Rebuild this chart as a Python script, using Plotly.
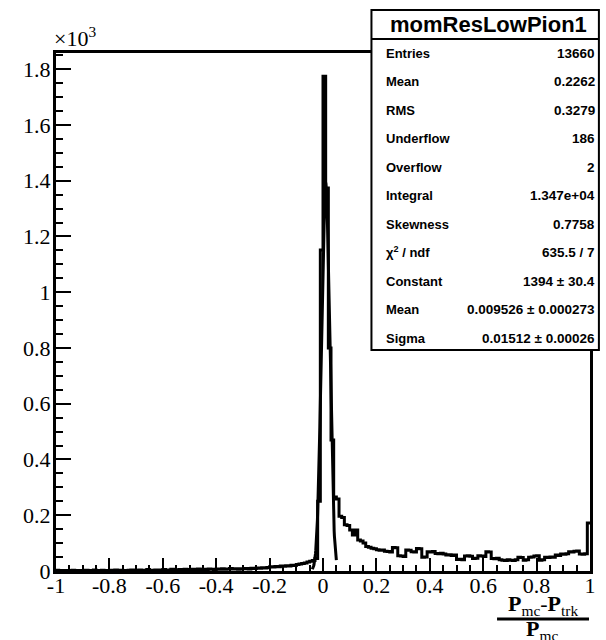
import numpy as np
import plotly.graph_objects as go

# histogram binning (200 bins from -1 to 1)
x_lo, x_hi, n_bins = -1.0, 1.0, 200

# bin contents
counts_far_left = [3, 1, 2, 0, 2, 1, 3, 2, 1, 2,
                   2, 3, 1, 2, 4, 2, 1, 3, 2, 2,
                   3, 2, 4, 2, 3, 1, 2, 3, 4, 2,
                   3, 4, 2, 3, 5, 3, 2, 4, 3, 4,
                   5, 3, 4, 6, 4, 3, 5, 4, 6, 5,
                   4, 6, 5, 7, 5, 6, 4, 7, 6, 5,
                   7, 6, 8, 6, 7, 9, 7, 8, 6, 8]          # -1.00 .. -0.31
counts_near_left = [8, 9, 7, 10, 9, 11, 10, 12, 11, 13,
                    15, 14, 16, 15, 18, 17, 19, 18, 21, 20,
                    23, 25, 27, 29, 32, 35, 38, 45, 250, 1151]  # -0.30 .. -0.01
counts_peak = [1775, 1374, 800, 470, 265, 258, 196, 192, 166, 163]  # 0.00 .. 0.09
counts_tail = [147, 129, 147, 111, 108, 100, 88, 85, 82, 80,
               76, 74, 75, 71, 70, 68, 84, 83, 55, 54,
               52, 75, 74, 69, 68, 81, 80, 49, 50, 69,
               68, 70, 63, 62, 64, 61, 57, 58, 56, 57,
               41, 42, 40, 54, 55, 53, 45, 46, 55, 54,
               52, 69, 68, 45, 44, 46, 40, 39, 38, 40,
               39, 38, 40, 49, 48, 39, 40, 49, 50, 54,
               55, 39, 40, 49, 48, 50, 49, 57, 56, 61,
               60, 62, 69, 68, 71, 72, 61, 60, 62, 172]  # 0.10 .. 0.99

# gaussian fit result (from the stats box)
fit_const, fit_mean, fit_sigma = 1394.0, 0.009526, 0.01512
fit_range = [-0.04, 0.05]

stats_title = "momResLowPion1"
stats_labels = ["Entries", "Mean", "RMS", "Underflow", "Overflow", "Integral",
                "Skewness", "χ<sup>2</sup> / ndf", "Constant", "Mean", "Sigma"]
stats_values = ["13660", "0.2262", "0.3279", "186", "2", "1.347e+04",
                "0.7758", "635.5 / 7", "1394 ± 30.4", "0.009526 ± 0.000273",
                "0.01512 ± 0.00026"]

x_ticks = [-1, -0.8, -0.6, -0.4, -0.2, 0, 0.2, 0.4, 0.6, 0.8, 1]
x_ticktext = ["-1", "-0.8", "-0.6", "-0.4", "-0.2", "0", "0.2", "0.4", "0.6", "0.8", "1"]
y_ticks = [0, 200, 400, 600, 800, 1000, 1200, 1400, 1600, 1800]
y_ticktext = ["0", "0.2", "0.4", "0.6", "0.8", "1", "1.2", "1.4", "1.6", "1.8"]

counts = counts_far_left + counts_near_left + counts_peak + counts_tail
edges = np.linspace(x_lo, x_hi, n_bins + 1)
step_y = counts + [counts[-1]]

fit_x = np.linspace(fit_range[0], fit_range[1], 100)
fit_y = fit_const * np.exp(-0.5 * ((fit_x - fit_mean) / fit_sigma) ** 2)

# plot frame in pixels
L, R, T, B = 56, 596, 53, 571
W, H = 606, 640


def px(x):
    return (x - L) / (R - L)


def py(y):
    return (B - y) / (B - T)


fig = go.Figure()
fig.add_trace(go.Scatter(x=edges, y=step_y, mode="lines", line_shape="hv",
                         line=dict(color="black", width=3), showlegend=False))
fig.add_trace(go.Scatter(x=fit_x, y=fit_y, mode="lines",
                         line=dict(color="black", width=3), showlegend=False))

serif = "Liberation Serif"
fig.update_layout(
    width=W, height=H, autosize=False,
    margin=dict(l=L, r=W - R, t=T, b=H - B),
    paper_bgcolor="white", plot_bgcolor="white",
    font=dict(family=serif, size=22, color="black"),
    showlegend=False,
)
fig.update_xaxes(
    range=[x_lo, x_hi], tickvals=x_ticks, ticktext=x_ticktext,
    ticks="inside", ticklen=13, tickwidth=2, tickcolor="black", ticklabelstandoff=-7,
    minor=dict(dtick=0.05, tick0=-1, ticks="inside", ticklen=6, tickwidth=2, tickcolor="black"),
    showline=True, linewidth=3, linecolor="black", mirror=True,
    showgrid=False, zeroline=False,
)
fig.update_yaxes(
    range=[0, 1858], tickvals=y_ticks, ticktext=y_ticktext,
    ticks="inside", ticklen=15, tickwidth=2, tickcolor="black", ticklabelstandoff=-2,
    minor=dict(dtick=50, tick0=0, ticks="inside", ticklen=7, tickwidth=2, tickcolor="black"),
    showline=True, linewidth=3, linecolor="black", mirror=True,
    showgrid=False, zeroline=False,
)

ann = []
ann.append(dict(x=px(52), y=py(53), xref="paper", yref="paper", text="×10<sup>3</sup>",
                showarrow=False, xanchor="left", yanchor="bottom",
                font=dict(family=serif, size=22)))

# axis title as a fraction
ann.append(dict(x=px(548), y=py(605), xref="paper", yref="paper",
                text="<b>P</b><sub>mc</sub>-<b>P</b><sub>trk</sub>",
                showarrow=False, xanchor="center", yanchor="middle",
                font=dict(family=serif, size=22)))
ann.append(dict(x=px(547), y=py(630), xref="paper", yref="paper",
                text="<b>P</b><sub>mc</sub>",
                showarrow=False, xanchor="center", yanchor="middle",
                font=dict(family=serif, size=22)))

shapes = [
    dict(type="line", xref="paper", yref="paper", x0=px(502), x1=px(595),
         y0=py(619), y1=py(619), line=dict(color="black", width=3)),
    dict(type="rect", xref="paper", yref="paper", x0=px(375), x1=px(605),
         y0=py(350), y1=py(10), line=dict(color="black", width=2), fillcolor="white"),
    dict(type="line", xref="paper", yref="paper", x0=px(375), x1=px(605),
         y0=py(39), y1=py(39), line=dict(color="black", width=2)),
]

sans = "Liberation Sans"
ann.append(dict(x=px(493), y=py(24), xref="paper", yref="paper",
                text="<b>" + stats_title + "</b>", showarrow=False,
                xanchor="center", yanchor="middle", font=dict(family=sans, size=22)))
for i, (lab, val) in enumerate(zip(stats_labels, stats_values)):
    yy = py(53 + i * 28.5)
    ann.append(dict(x=px(388), y=yy, xref="paper", yref="paper", text="<b>" + lab + "</b>",
                    showarrow=False, xanchor="left", yanchor="middle",
                    font=dict(family=sans, size=13)))
    ann.append(dict(x=px(603), y=yy, xref="paper", yref="paper", text="<b>" + val + "</b>",
                    showarrow=False, xanchor="right", yanchor="middle",
                    font=dict(family=sans, size=13.5)))

fig.update_layout(annotations=ann, shapes=shapes)

# drop the browser's default body margin so the figure fills the window
fig.write_html("out.html", config={"displayModeBar": False, "responsive": False},
               post_script="document.body.style.margin='0';document.body.style.overflow='hidden';")
